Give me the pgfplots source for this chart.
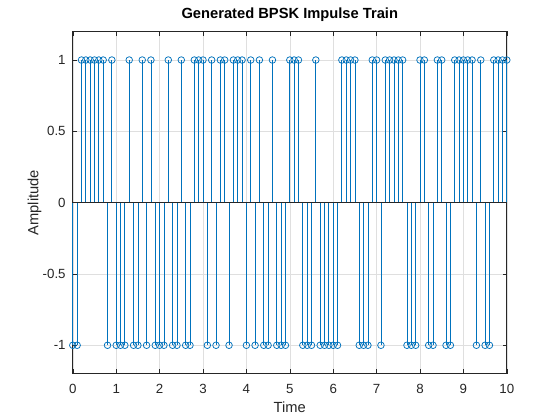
\documentclass[border=0pt]{standalone}
\usepackage{pgfplots}
\pgfplotsset{compat=1.18}
\usepackage{pgfplotstable}
\usepackage{fontspec}
\setmainfont{Liberation Sans}
\definecolor{stemblue}{HTML}{0072BD}
\definecolor{axgray}{HTML}{262626}
\definecolor{gridgray}{HTML}{DFDFDF}
\pgfplotstableread{
x y
0.0 -1
0.1 -1
0.2 1
0.3 1
0.4 1
0.5 1
0.6 1
0.7 1
0.8 -1
0.9 1
1.0 -1
1.1 -1
1.2 -1
1.3 1
1.4 -1
1.5 -1
1.6 1
1.7 -1
1.8 1
1.9 -1
2.0 -1
2.1 -1
2.2 1
2.3 -1
2.4 -1
2.5 1
2.6 -1
2.7 -1
2.8 1
2.9 1
3.0 1
3.1 -1
3.2 1
3.3 -1
3.4 1
3.5 1
3.6 -1
3.7 1
3.8 1
3.9 1
4.0 -1
4.1 1
4.2 -1
4.3 1
4.4 -1
4.5 -1
4.6 1
4.7 -1
4.8 -1
4.9 -1
5.0 1
5.1 1
5.2 1
5.3 -1
5.4 -1
5.5 -1
5.6 1
5.7 -1
5.8 -1
5.9 -1
6.0 -1
6.1 -1
6.2 1
6.3 1
6.4 1
6.5 1
6.6 -1
6.7 -1
6.8 -1
6.9 1
7.0 1
7.1 -1
7.2 1
7.3 1
7.4 1
7.5 1
7.6 1
7.7 -1
7.8 -1
7.9 -1
8.0 1
8.1 1
8.2 -1
8.3 -1
8.4 1
8.5 1
8.6 -1
8.7 -1
8.8 1
8.9 1
9.0 1
9.1 1
9.2 1
9.3 -1
9.4 1
9.5 -1
9.6 -1
9.7 1
9.8 1
9.9 1
10.0 1
}\bpsk
\begin{document}
\begin{tikzpicture}
\path[use as bounding box, fill=white] (0,0) rectangle (560bp,420bp);
\begin{axis}[
  at={(72.8bp,46.2bp)}, anchor=south west,
  scale only axis, width=434bp, height=342.3bp,
  xmin=0, xmax=10, ymin=-1.2, ymax=1.2,
  xtick={0,1,2,3,4,5,6,7,8,9,10},
  xticklabels={0,1,2,3,4,5,6,7,8,9,10},
  ytick={-1,-0.5,0,0.5,1},
  yticklabels={-1,-0.5,0,0.5,1},
  tick align=inside,
  major tick length=4.3bp,
  tick style={axgray, line width=0.6bp},
  axis line style={axgray, line width=0.75bp},
  grid=major,
  major grid style={gridgray, line width=0.6bp},
  xticklabel style={anchor=base, inner sep=0pt, yshift=-19.5bp, text=axgray, font=\fontsize{13.3bp}{16bp}\selectfont},
  yticklabel style={anchor=east, inner sep=0pt, xshift=-7bp, text=axgray, font=\fontsize{13.3bp}{16bp}\selectfont},
  xlabel={Time},
  ylabel={Amplitude},
  title={Generated BPSK Impulse Train},
  xlabel style={at={(axis description cs:0.5,-0.1139)}, anchor=base, inner sep=0pt, text=axgray, font=\fontsize{14.7bp}{17bp}\selectfont},
  ylabel style={at={(axis description cs:-0.0795,0.5)}, anchor=base, inner sep=0pt, rotate=0, text=axgray, font=\fontsize{14.7bp}{17bp}\selectfont},
  title style={at={(axis description cs:0.5,1.0219)}, anchor=base, inner sep=0pt, text=black, font=\fontsize{14.7bp}{17bp}\selectfont\bfseries},
  clip=false,
  axis on top=false,
]
\addplot[ycomb, stemblue, line width=0.8bp, mark=o, mark size=3.3bp, mark options={stemblue, line width=0.75bp, fill=none}] table[x=x, y=y] {\bpsk};
\addplot[axgray, line width=0.75bp] coordinates {(0,0) (10,0)};
\end{axis}
\end{tikzpicture}
\end{document}
